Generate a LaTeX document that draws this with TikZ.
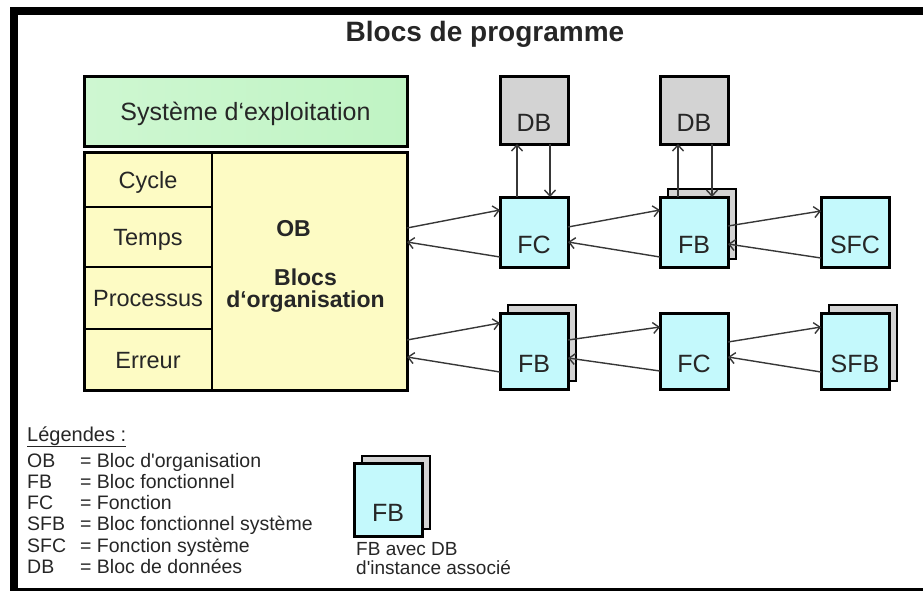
\documentclass[tikz,border=0pt]{standalone}
\usepackage{fontspec}
\setmainfont{Liberation Sans}
\usepackage{tikz}
\usetikzlibrary{arrows.meta,positioning,calc,shadows}
\definecolor{BPgreenL}{RGB}{206,247,209}
\definecolor{BPgreenR}{RGB}{192,244,196}
\definecolor{BPyellow}{RGB}{253,251,196}
\definecolor{BPcyan}{RGB}{196,249,252}
\definecolor{BPgray}{RGB}{211,211,211}
\definecolor{BPline}{RGB}{55,55,55}
\definecolor{BPtext}{RGB}{38,38,38}
\tikzstyle{osbox}   = [rectangle, draw, line width=3pt, left color=BPgreenL, right color=BPgreenR,
                       minimum width=323pt, minimum height=70pt, inner sep=0pt, text=BPtext,
                       font=\fontsize{25}{28}\selectfont, text height=18pt, text depth=0pt]
\tikzstyle{cellbox} = [rectangle, draw, line width=2pt, fill=BPyellow, minimum width=128pt,
                       inner sep=0pt, outer sep=0pt, text=BPtext, font=\fontsize{23.5}{26}\selectfont,
                       text height=17pt, text depth=0pt]
\tikzstyle{obbox}   = [rectangle, draw, line width=2pt, fill=BPyellow, minimum width=195pt,
                       minimum height=238pt, inner sep=0pt, outer sep=0pt]
\tikzstyle{obtext}  = [align=center, inner sep=0pt, text=BPtext, font=\bfseries\fontsize{23}{22}\selectfont]
\tikzstyle{blkbox}  = [rectangle, draw, line width=3pt, fill=BPcyan, minimum width=68pt,
                       minimum height=70pt, inner sep=0pt, outer sep=0pt, text=BPtext,
                       font=\fontsize{25}{28}\selectfont, text height=42pt, text depth=0pt]
\tikzstyle{dbbox}   = [blkbox, fill=BPgray, minimum height=68pt]
\tikzstyle{fbbox}   = [blkbox, copy shadow={shadow xshift=8pt, shadow yshift=8pt,
                       fill=BPgray, draw=black, line width=2pt}]
\tikzstyle{link}    = [->, draw=BPline, line width=1.4pt]
\tikzstyle{legtext} = [anchor=north west, align=left, inner sep=0pt, text=BPtext,
                       font=\fontsize{19.5}{21.2}\selectfont]

\begin{document}
\begin{tikzpicture}[x=1pt, y=-1pt, node distance=53pt,
                    >={Straight Barb[length=6pt,width=11pt,line width=1.4pt]}]
  \useasboundingbox (0,0) rectangle (923,592);
  \draw[line width=8pt] (923,11) -- (13.5,11) -- (13.5,591);
  \draw[line width=3pt] (13.5,589.5) -- (923,589.5);

  \node[anchor=base, font=\bfseries\fontsize{28}{30}\selectfont, text=BPtext] (title) at (485,41) {Blocs de programme};

  \node[osbox] (os) at (245.5,111) {Système d‘exploitation};
  \node[cellbox, minimum height=55pt, anchor=north west] (cycle) at (84,152) {Cycle};
  \node[cellbox, minimum height=60pt, below=0pt of cycle] (temps) {Temps};
  \node[cellbox, minimum height=62pt, below=0pt of temps] (proc) {Processus};
  \node[cellbox, minimum height=61pt, below=0pt of proc] (err) {Erreur};
  \node[obbox] (ob) at (309.5,271) {};
  \draw[line width=3pt] (cycle.north west) rectangle (ob.south east);
  \node[obtext] (obname) at ([xshift=-16pt, yshift=42pt]ob.center) {OB};
  \node[obtext] (obdesc) at ([xshift=-4pt, yshift=-20pt]ob.center) {Blocs\\d‘organisation};

  \node[blkbox] (fca) at (534,232) {FC};
  \node[fbbox, right=92pt of fca] (fba) {FB};
  \node[blkbox, right=93pt of fba] (sfca) {SFC};
  \node[dbbox, above=of fca] (dba) {DB};
  \node[dbbox, above=of fba] (dbb) {DB};

  \node[fbbox, minimum height=76pt, below=46pt of fca] (fbb) {FB};
  \node[blkbox, minimum height=76pt, right=92pt of fbb] (fcb) {FC};
  \node[fbbox, minimum height=76pt, right=93pt of fcb] (sfbb) {SFB};

  \draw[link] ([yshift=43pt]ob.east) -- ([yshift=22pt]fca.west);
  \draw[link] ([yshift=-25pt]fca.west) -- ([yshift=29pt]ob.east);
  \draw[link] ([yshift=5pt]fca.east) -- ([yshift=22pt]fba.west);
  \draw[link] ([yshift=-25pt]fba.west) -- ([yshift=-10pt]fca.east);
  \draw[link] ([yshift=6pt]fba.east) -- ([yshift=21pt]sfca.west);
  \draw[link] ([yshift=-26pt]sfca.west) -- ([yshift=-12pt]fba.east);
  \draw[link] ([xshift=-17pt]fca.north) -- ([xshift=-17pt]dba.south);
  \draw[link] ([xshift=16pt]dba.south) -- ([xshift=16pt]fca.north);
  \draw[link] ([xshift=-16pt]fba.north) -- ([xshift=-16pt]dbb.south);
  \draw[link] ([xshift=18pt]dbb.south) -- ([xshift=18pt]fba.north);

  \draw[link] ([yshift=-69pt]ob.east) -- ([yshift=28pt]fbb.west);
  \draw[link] ([yshift=-21pt]fbb.west) -- ([yshift=-86pt]ob.east);
  \draw[link] ([yshift=11pt]fbb.east) -- ([yshift=24pt]fcb.west);
  \draw[link] ([yshift=-20pt]fcb.west) -- ([yshift=-7pt]fbb.east);
  \draw[link] ([yshift=9pt]fcb.east) -- ([yshift=24pt]sfbb.west);
  \draw[link] ([yshift=-21pt]sfbb.west) -- ([yshift=-6pt]fcb.east);

  \node[anchor=base west, inner sep=0pt, text=BPtext, font=\fontsize{20}{22}\selectfont] (leghead) at (27,441) {\underline{Légendes :}};
  \node[legtext] (legrows) at (27,453) {%
    \makebox[53pt][l]{OB}= Bloc d\textquotesingle organisation\\
    \makebox[53pt][l]{FB}= Bloc fonctionnel\\
    \makebox[53pt][l]{FC}= Fonction\\
    \makebox[53pt][l]{SFB}= Bloc fonctionnel système\\
    \makebox[53pt][l]{SFC}= Fonction système\\
    \makebox[53pt][l]{DB}= Bloc de données};
  \node[fbbox, minimum height=73pt] (legfb) at (388,500) {FB};
  \node[legtext, font=\fontsize{19}{19}\selectfont] (legnote) at (356,542) {FB avec DB\\d\textquotesingle instance associé};
\end{tikzpicture}
\end{document}
